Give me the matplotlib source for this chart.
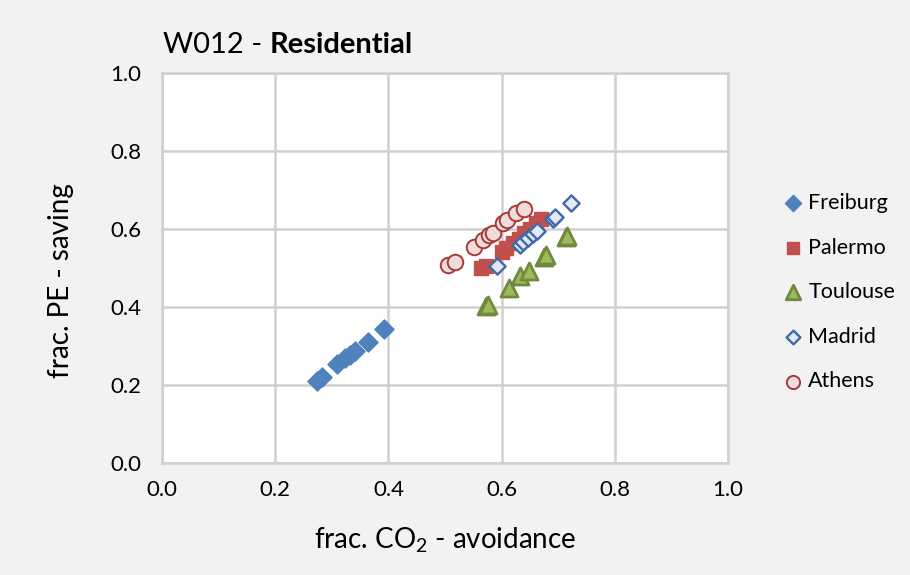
import matplotlib.pyplot as plt

plt.rcParams['font.family'] = ['Lato', 'DejaVu Sans']
plt.rcParams['mathtext.fontset'] = 'custom'
plt.rcParams['mathtext.rm'] = 'Lato'
plt.rcParams['mathtext.it'] = 'Lato:italic'

# fraction of CO2 avoided vs fraction of primary energy saved, per city
freiburg_x = [0.274, 0.283, 0.309, 0.323, 0.332, 0.341, 0.364, 0.392]
freiburg_y = [0.210, 0.220, 0.254, 0.269, 0.277, 0.287, 0.310, 0.344]

palermo_x = [0.563, 0.572, 0.600, 0.608, 0.620, 0.630, 0.640, 0.650, 0.660, 0.670]
palermo_y = [0.500, 0.505, 0.540, 0.550, 0.565, 0.575, 0.590, 0.600, 0.615, 0.625]

toulouse_x = [0.572, 0.576, 0.613, 0.633, 0.648, 0.675, 0.678, 0.714, 0.716]
toulouse_y = [0.403, 0.405, 0.449, 0.479, 0.492, 0.528, 0.534, 0.579, 0.582]

madrid_x = [0.592, 0.633, 0.638, 0.647, 0.656, 0.663, 0.691, 0.695, 0.723]
madrid_y = [0.505, 0.559, 0.566, 0.577, 0.586, 0.595, 0.626, 0.630, 0.667]

athens_x = [0.505, 0.517, 0.552, 0.567, 0.578, 0.584, 0.602, 0.610, 0.626, 0.640]
athens_y = [0.507, 0.515, 0.553, 0.572, 0.585, 0.590, 0.615, 0.622, 0.640, 0.650]

ticks = [0.0, 0.2, 0.4, 0.6, 0.8, 1.0]

fig = plt.figure(figsize=(9.1, 5.75), dpi=100, facecolor='#F2F2F2')
ax = fig.add_axes([0.178, 0.195, 0.622, 0.678])
ax.set_facecolor('white')

ax.scatter(freiburg_x, freiburg_y, marker='D', s=95, c='#4F81BD',
           edgecolors='#4F81BD', linewidths=1, label='Freiburg', zorder=3)
ax.scatter(palermo_x, palermo_y, marker='s', s=95, c='#C0504D',
           edgecolors='#C0504D', linewidths=1, label='Palermo', zorder=3)
ax.scatter(toulouse_x, toulouse_y, marker='^', s=150, c='#9BBB59',
           edgecolors='#71893F', linewidths=2, label='Toulouse', zorder=3)
ax.scatter(madrid_x, madrid_y, marker='D', s=68, c='#E6E6F5',
           edgecolors='#3E6AA8', linewidths=1.7, label='Madrid', zorder=3)
ax.scatter(athens_x, athens_y, marker='o', s=125, c='#F2DCDB',
           edgecolors='#A33B38', linewidths=1.4, label='Athens', zorder=3)

ax.set_xlim(0, 1)
ax.set_ylim(0, 1)
ax.set_xticks(ticks)
ax.set_yticks(ticks)
ax.set_xticklabels([f'{t:.1f}' for t in ticks])
ax.set_yticklabels([f'{t:.1f}' for t in ticks])
ax.tick_params(length=0, labelsize=16, colors='#000000')
ax.tick_params(axis='x', pad=12)
ax.tick_params(axis='y', pad=15)
ax.grid(True, color='#D0D0D0', linewidth=1.8, zorder=0)
for side in ax.spines.values():
    side.set_color('#D0D0D0')
    side.set_linewidth(1.8)

ax.set_xlabel('frac. CO$_2$ - avoidance', fontsize=20)
ax.set_ylabel('frac. PE - saving', fontsize=20)
ax.xaxis.set_label_coords(0.5, -0.16)
ax.yaxis.set_label_coords(-0.156, 0.467)

# title: regular prefix followed by bold part
t1 = fig.text(0.179, 0.908, 'W012 - ', fontsize=21, ha='left', va='baseline')
fig.canvas.draw()
bb = t1.get_window_extent()
fig.text(bb.x1 / fig.bbox.width, 0.908, 'Residential', fontsize=21,
         fontweight='bold', ha='left', va='baseline')

ax.legend(loc='center left', bbox_to_anchor=(1.062, 0.438), frameon=False,
          fontsize=15.5, labelspacing=1.14, handlelength=1.0,
          handletextpad=0.2, markerscale=0.85)

fig.savefig('out.png', dpi=100, facecolor=fig.get_facecolor())
